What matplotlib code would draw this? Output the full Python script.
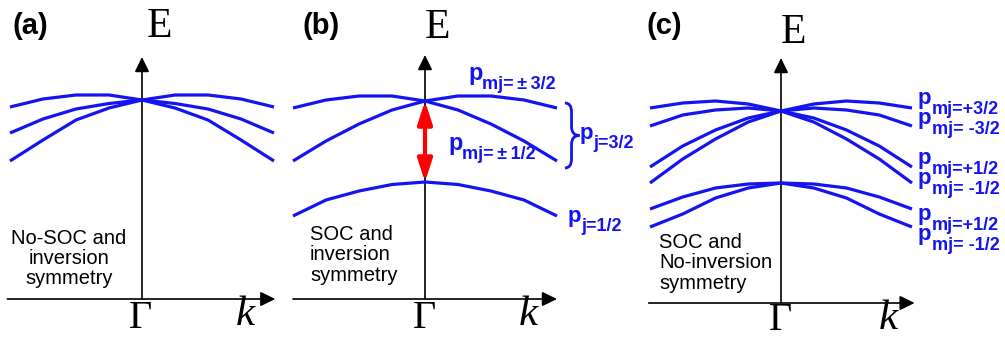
"""Valence-band schematic: no SOC / SOC / SOC without inversion symmetry."""
import matplotlib
matplotlib.use("Agg")
import matplotlib.pyplot as plt
import matplotlib.transforms as mtransforms
from matplotlib.path import Path
from matplotlib.patches import PathPatch

plt.rcParams["font.family"] = ["Liberation Sans", "DejaVu Sans"]

W, H = 1005, 343
BLUE = "#1414f0"

# k grid shared by all bands (Gamma at 0, zone edge of the sketch at +-1)
k = [-1.0, -0.75, -0.5, -0.25, 0.0, 0.25, 0.5, 0.75, 1.0]

# (a) no SOC, with inversion: threefold degenerate p bands at Gamma
a_top = [19.2, 20.0, 20.4, 20.4, 19.9, 20.4, 20.4, 20.0, 19.2]
a_mid = [16.6, 18.0, 19.0, 19.55, 19.9, 19.55, 19.0, 18.0, 16.6]
a_low = [13.8, 15.9, 17.9, 19.1, 19.9, 19.1, 17.9, 15.9, 13.8]

# (b) SOC with inversion: j=3/2 quartet and split-off j=1/2
b_hh = [19.1, 19.9, 20.3, 20.3, 19.8, 20.3, 20.3, 19.9, 19.1]
b_lh = [13.8, 15.8, 17.5, 18.9, 19.8, 18.9, 17.5, 15.8, 13.8]
b_so = [8.3, 9.9, 10.8, 11.45, 11.7, 11.45, 10.8, 9.9, 8.3]

# (c) SOC without inversion: every band spin-split away from Gamma
c_p32 = [19.5, 20.0, 20.2, 19.9, 19.2, 19.9, 20.2, 20.0, 19.5]
c_m32 = [17.7, 18.8, 19.3, 19.5, 19.2, 19.5, 19.3, 18.8, 17.7]
c_p12 = [13.6, 15.7, 17.3, 18.5, 19.2, 18.5, 17.3, 15.7, 13.6]
c_m12 = [12.0, 14.4, 16.4, 18.1, 19.2, 18.1, 16.4, 14.4, 12.0]
c_sop = [9.4, 10.6, 11.5, 11.9, 12.0, 11.9, 11.5, 10.6, 9.4]
c_som = [7.6, 8.9, 10.5, 11.5, 12.0, 11.5, 10.5, 8.9, 7.6]

panel_tags = ["(a)", "(b)", "(c)"]
captions = [["No-SOC and", "inversion", "symmetry"],
            ["SOC and", "inversion", "symmetry"],
            ["SOC and", "No-inversion", "symmetry"]]
c_subs = ["mj=+3/2", "mj= -3/2", "mj=+1/2", "mj= -1/2", "mj=+1/2", "mj= -1/2"]

fig = plt.figure(figsize=(W / 100, H / 100), dpi=100)
px = mtransforms.Affine2D().scale(1 / W, -1 / H).translate(0, 1) + fig.transFigure


def panel(left, right, gamma, unit, y_axis):
    ax = fig.add_axes([left / W, 0, (right - left) / W, 1])
    ax.set_xlim((left - gamma) / unit, (right - gamma) / unit)
    ax.set_ylim((y_axis - H) / 10, y_axis / 10)
    ax.axis("off")
    return ax


def axes_arrows(ax, kmin, kmax, etop):
    head = dict(arrowstyle="-|>,head_length=0.45,head_width=0.22", mutation_scale=20,
                lw=1.2, color="k", shrinkA=0, shrinkB=0)
    ax.annotate("", xy=(kmax, 0), xytext=(kmin, 0), arrowprops=head,
                annotation_clip=False, zorder=1)
    ax.annotate("", xy=(0, etop), xytext=(0, 0), arrowprops=head,
                annotation_clip=False, zorder=1)


def plabel(x, y, sub, ps=16, ss=13, dx=13, dy=9):
    fig.text(x, y, "p", transform=px, fontsize=ps, fontweight="bold", color=BLUE,
             ha="left", va="baseline")
    fig.text(x + dx, y + dy, sub, transform=px, fontsize=ss, fontweight="bold",
             color=BLUE, ha="left", va="baseline")


band_kw = dict(color=BLUE, lw=2.3, solid_capstyle="butt", clip_on=False, zorder=3)

ax_a = panel(0, 290, 142, 132, 299)
axes_arrows(ax_a, -1.02, 1.01, 24.2)
for band in (a_top, a_mid, a_low):
    ax_a.plot(k, band, **band_kw)

ax_b = panel(290, 630, 425, 132, 299)
axes_arrows(ax_b, -1.0, 1.0, 24.4)
for band in (b_hh, b_lh, b_so):
    ax_b.plot(k, band, **band_kw)
ax_b.annotate("", xy=(0, b_so[4]), xytext=(0, b_hh[4]), annotation_clip=False,
              arrowprops=dict(arrowstyle="<|-|>,head_length=0.68,head_width=0.22",
                              mutation_scale=20, lw=3, color="red", shrinkA=0, shrinkB=0),
              zorder=2)

# curly brace grouping the j=3/2 bands at the zone edge
x0, xm, xt = 1.06, 1.11, 1.17
yt, yb = b_hh[-1] + 0.5, b_lh[-1] - 0.7
ym = (yt + yb) / 2
verts = [(x0, yt), (xm, yt), (xm, yt - 0.9), (xm, ym + 0.9), (xm, ym), (xt, ym),
         (xm, ym), (xm, ym - 0.9), (xm, yb + 0.9), (xm, yb), (x0, yb)]
codes = [Path.MOVETO, Path.CURVE3, Path.CURVE3, Path.LINETO, Path.CURVE3, Path.CURVE3,
         Path.CURVE3, Path.CURVE3, Path.LINETO, Path.CURVE3, Path.CURVE3]
ax_b.add_patch(PathPatch(Path(verts, codes), fill=False, ec=BLUE, lw=2, clip_on=False))

ax_c = panel(630, 1005, 781, 131, 303)
axes_arrows(ax_c, -1.01, 1.02, 24.5)
for band in (c_p32, c_m32, c_p12, c_m12, c_sop, c_som):
    ax_c.plot(k, band, **band_kw)

# panel tags, axis symbols
for tag, x in zip(panel_tags, (13, 302, 646)):
    fig.text(x, 26, tag, transform=px, fontsize=21, fontweight="bold", ha="left", va="center")
serif = dict(transform=px, family="Liberation Serif", ha="center", va="center")
for x, y in ((160, 27), (438, 28), (793, 33)):
    fig.text(x, y, "E", fontsize=30, **serif)
for x, y in ((140, 319), (425, 319), (780, 321)):
    fig.text(x, y, "\u0393", fontsize=29, **serif)
for x, y in ((245, 315), (528, 315), (888, 319)):
    fig.text(x, y, "k", fontsize=31, style="italic", **serif)

# captions
for i, line in enumerate(captions[0]):
    fig.text(69, 244 + 20 * i, line, transform=px, fontsize=14.5, ha="center", va="baseline")
for i, line in enumerate(captions[1]):
    fig.text(310, 240 + 20.5 * i, line, transform=px, fontsize=14.5, ha="left", va="baseline")
for i, line in enumerate(captions[2]):
    fig.text(659, 248 + 20.5 * i, line, transform=px, fontsize=14.5, ha="left", va="baseline")

# band labels
plabel(468, 80, "mj=\u2009\u00b1\u20093/2", ps=17, dx=14)
plabel(448, 150, "mj=\u2009\u00b1\u20091/2", ps=17, dx=14)
plabel(580, 139, "j=3/2")
plabel(568, 222, "j=1/2")
for sub, y in zip(c_subs, (104, 124, 164, 184, 220, 240)):
    plabel(918, y, sub, dx=14, dy=10)

fig.savefig("out.png", dpi=100)
